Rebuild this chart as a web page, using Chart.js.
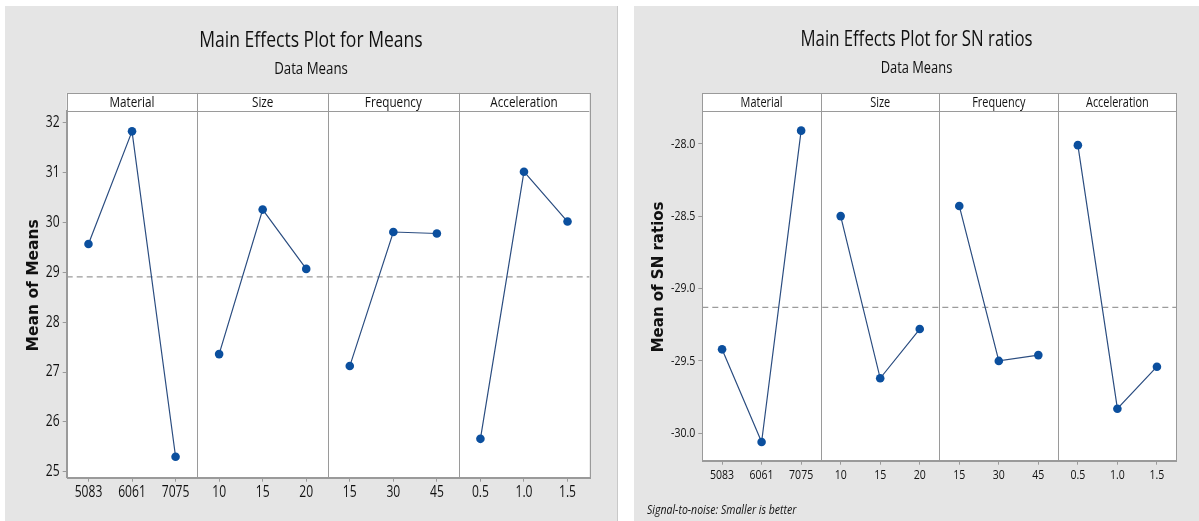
<!DOCTYPE html>
<html>
<head>
<meta charset="utf-8">
<script src="https://cdn.jsdelivr.net/npm/chart.js@4.4.1/dist/chart.umd.min.js"></script>
<style>
  html, body { margin: 0; padding: 0; background: #ffffff; width: 1199px; height: 521px; overflow: hidden; }
  .panel { position: absolute; background: #e5e5e5; }
  #panelMeans { left: 5px; top: 6px; width: 612px; height: 515px; box-shadow: 1px 0 0 #c9c9c9; }
  #panelSN { left: 634px; top: 6px; width: 565px; height: 515px; }
  canvas { display: block; }
</style>
</head>
<body>
<div class="panel" id="panelMeans"><canvas id="chartMeans" width="612" height="515"></canvas></div>
<div class="panel" id="panelSN"><canvas id="chartSN" width="565" height="515"></canvas></div>
<script>
// Factors and their levels
const factors = ['Material', 'Size', 'Frequency', 'Acceleration'];
const materialLevels = ['5083', '6061', '7075'];
const sizeLevels = ['10', '15', '20'];
const frequencyLevels = ['15', '30', '45'];
const accelerationLevels = ['0.5', '1.0', '1.5'];

// Mean of means for each level
const meansMaterial = [29.57, 31.83, 25.30];
const meansSize = [27.36, 30.26, 29.07];
const meansFrequency = [27.12, 29.81, 29.78];
const meansAcceleration = [25.66, 31.02, 30.02];
const meansGrand = 28.91;
const meansTicks = [25, 26, 27, 28, 29, 30, 31, 32];

// Mean of SN ratios for each level (smaller is better)
const snMaterial = [-29.42, -30.06, -27.91];
const snSize = [-28.50, -29.62, -29.28];
const snFrequency = [-28.43, -29.50, -29.46];
const snAcceleration = [-28.01, -29.83, -29.54];
const snGrand = -29.13;
const snTicks = [-30.0, -29.5, -29.0, -28.5, -28.0];

const SANS = "'Open Sans', 'Liberation Sans', sans-serif";
const TEXT = '#111111';
const FRAME = '#9a9a9a';
const LINE = '#2b4d80';
const DOT = '#0b4f9e';
const CONDENSE = 0.78;   // horizontal squeeze for the narrow UI lettering

const levelLabels = [...materialLevels, ...sizeLevels, ...frequencyLevels, ...accelerationLevels];

// place a factor's three level values into its own slot of the shared category axis
function placeGroup(values, group) {
  return levelLabels.map((_, i) => (Math.floor(i / 3) === group ? values[i % 3] : null));
}

// draw Open Sans text horizontally condensed (narrow look), other fonts untouched
function condenseText(canvas) {
  const ctx = canvas.getContext('2d');
  const fill = ctx.fillText.bind(ctx);
  const measure = ctx.measureText.bind(ctx);
  const isNarrow = () => /Open Sans/.test(ctx.font);
  ctx.fillText = function (text, x, y, maxWidth) {
    if (!isNarrow()) return fill(text, x, y, maxWidth);
    ctx.save();
    ctx.translate(x, y);
    ctx.scale(CONDENSE, 1);
    fill(text, 0, 0);
    ctx.restore();
  };
  ctx.measureText = function (text) {
    const m = measure(text);
    if (!isNarrow()) return m;
    return { width: m.width * CONDENSE, actualBoundingBoxAscent: m.actualBoundingBoxAscent, actualBoundingBoxDescent: m.actualBoundingBoxDescent };
  };
  return canvas;
}

const facetPlugin = {
  id: 'facets',
  beforeDraw(chart, args, o) {
    const { ctx, chartArea: a } = chart;
    ctx.save();
    ctx.fillStyle = '#ffffff';
    ctx.fillRect(a.left, a.top - o.stripHeight, a.right - a.left, a.bottom - a.top + o.stripHeight);
    ctx.restore();
  },
  beforeDatasetsDraw(chart, args, o) {
    const { ctx, chartArea: a } = chart;
    const y = chart.scales.y.getPixelForValue(o.refValue);
    ctx.save();
    ctx.strokeStyle = '#9b9b9b';
    ctx.lineWidth = 1.3;
    ctx.setLineDash([6, 4]);
    ctx.beginPath();
    ctx.moveTo(a.left, y);
    ctx.lineTo(a.right, y);
    ctx.stroke();
    ctx.restore();
  },
  afterDraw(chart, args, o) {
    const { ctx, chartArea: a } = chart;
    const xs = chart.scales.x;
    const top = a.top - o.stripHeight;
    ctx.save();
    ctx.strokeStyle = FRAME;
    ctx.lineWidth = 1;
    // panel dividers
    for (let g = 1; g < factors.length; g++) {
      const x = Math.round((xs.getPixelForValue(3 * g - 1) + xs.getPixelForValue(3 * g)) / 2) + 0.5;
      ctx.beginPath();
      ctx.moveTo(x, top);
      ctx.lineTo(x, a.bottom);
      ctx.stroke();
    }
    // strip and outer frame
    ctx.beginPath();
    ctx.moveTo(a.left, Math.round(a.top) + 0.5);
    ctx.lineTo(a.right, Math.round(a.top) + 0.5);
    ctx.stroke();
    ctx.strokeRect(Math.round(a.left) + 0.5, Math.round(top) + 0.5, Math.round(a.right - a.left), Math.round(a.bottom - top));
    // factor names
    ctx.fillStyle = TEXT;
    ctx.font = o.stripSize + 'px ' + SANS;
    ctx.textAlign = 'center';
    ctx.textBaseline = 'middle';
    factors.forEach((f, g) => {
      ctx.fillText(f, xs.getPixelForValue(3 * g + 1), top + o.stripHeight / 2 + 0.5);
    });
    // vertical axis title, centred on strip + plot
    ctx.save();
    ctx.translate(o.yTitleX, (top + a.bottom) / 2);
    ctx.rotate(-Math.PI / 2);
    ctx.font = 'bold ' + o.yTitleSize + "px 'DejaVu Sans', sans-serif";
    ctx.fillStyle = '#111111';
    ctx.fillText(o.yTitle, 0, 0);
    ctx.restore();
    // footnote
    if (o.note) {
      ctx.font = 'italic ' + o.noteSize + 'px ' + SANS;
      ctx.textAlign = 'left';
      ctx.fillStyle = TEXT;
      ctx.fillText(o.note, o.noteX, o.noteY);
    }
    ctx.restore();
  }
};

function buildChart(canvasId, cfg) {
  const datasets = cfg.series.map((values, g) => ({
    label: factors[g],
    data: placeGroup(values, g),
    borderColor: LINE,
    borderWidth: 1.2,
    pointBackgroundColor: DOT,
    pointBorderColor: DOT,
    pointRadius: 4.3,
    pointBorderWidth: 0,
    spanGaps: false,
    tension: 0
  }));
  return new Chart(condenseText(document.getElementById(canvasId)), {
    type: 'line',
    data: { labels: levelLabels, datasets },
    options: {
      responsive: false,
      animation: false,
      events: [],
      layout: { padding: { left: cfg.pad, top: 0, right: cfg.pad, bottom: 0 } },
      plugins: {
        legend: { display: false },
        tooltip: { enabled: false },
        title: {
          display: true, text: cfg.title, color: TEXT,
          font: { family: SANS, size: cfg.titleSize, weight: 'normal' },
          padding: { top: cfg.titlePadTop, bottom: cfg.titlePadBottom }
        },
        subtitle: {
          display: true, text: 'Data Means', color: TEXT,
          font: { family: SANS, size: cfg.subSize, weight: 'normal' },
          padding: { top: 0, bottom: cfg.subPadBottom }
        },
        facets: {
          stripHeight: 18, stripSize: cfg.stripSize, refValue: cfg.grand,
          yTitle: cfg.yTitle, yTitleX: cfg.yTitleX, yTitleSize: cfg.yTitleSize,
          note: cfg.note, noteX: cfg.noteX, noteY: cfg.noteY, noteSize: cfg.noteSize
        }
      },
      scales: {
        x: {
          type: 'category',
          offset: true,
          grid: { display: true, offset: false, drawOnChartArea: false, drawTicks: true, tickLength: 4, color: FRAME },
          border: { display: true, color: FRAME },
          ticks: { color: TEXT, font: { family: SANS, size: cfg.tickSize }, padding: 2, maxRotation: 0, autoSkip: false },
          afterFit: (s) => { s.height = cfg.xHeight; }
        },
        y: {
          type: 'linear',
          min: cfg.yMin, max: cfg.yMax,
          afterBuildTicks: (s) => { s.ticks = cfg.ticks.map((v) => ({ value: v })); },
          grid: { display: true, drawOnChartArea: false, drawTicks: true, tickLength: 4, color: FRAME },
          border: { display: true, color: FRAME },
          ticks: { color: TEXT, font: { family: SANS, size: cfg.tickSize }, padding: 3, callback: cfg.tickFormat },
          afterFit: (s) => { s.width = cfg.yWidth; }
        }
      }
    },
    plugins: [facetPlugin]
  });
}

buildChart('chartMeans', {
  series: [meansMaterial, meansSize, meansFrequency, meansAcceleration],
  grand: meansGrand, ticks: meansTicks, yMin: 24.88, yMax: 32.24,
  tickFormat: (v) => String(v),
  title: 'Main Effects Plot for Means', titleSize: 22.5, titlePadTop: 21.5, titlePadBottom: 4.0,
  subSize: 17, subPadBottom: 32.0, stripSize: 15, tickSize: 15.5,
  yTitle: 'Mean of Means', yTitleX: 29, yTitleSize: 15.5,
  pad: 27.7, yWidth: 34.0, xHeight: 43.3
});

buildChart('chartSN', {
  series: [snMaterial, snSize, snFrequency, snAcceleration],
  grand: snGrand, ticks: snTicks, yMin: -30.189, yMax: -27.775,
  tickFormat: (v) => v.toFixed(1),
  title: 'Main Effects Plot for SN ratios', titleSize: 21.5, titlePadTop: 21.2, titlePadBottom: 5.5,
  subSize: 16.5, subPadBottom: 32.8, stripSize: 14, tickSize: 13.5,
  yTitle: 'Mean of SN ratios', yTitleX: 25, yTitleSize: 15,
  note: 'Signal-to-noise: Smaller is better', noteX: 13, noteY: 504, noteSize: 13.5,
  pad: 22.3, yWidth: 46.0, xHeight: 60.3
});
</script>
</body>
</html>
